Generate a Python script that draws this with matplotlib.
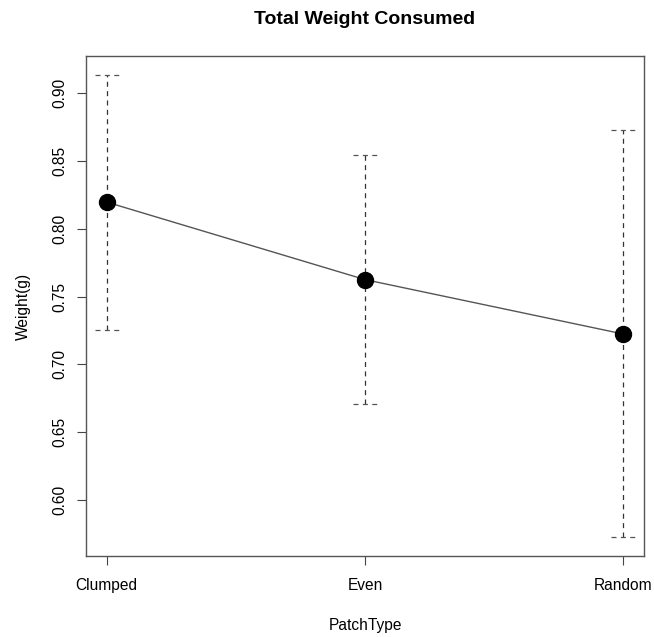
import matplotlib
matplotlib.use("Agg")
import matplotlib.pyplot as plt

categories = ["Clumped", "Even", "Random"]
means = [0.8196, 0.7625, 0.7224]
upper = [0.9136, 0.8545, 0.8727]
lower = [0.7254, 0.6710, 0.5725]
yticks = [0.60, 0.65, 0.70, 0.75, 0.80, 0.85, 0.90]

plt.rcParams['font.family'] = ['Liberation Sans', 'DejaVu Sans']

fig = plt.figure(figsize=(6.54, 6.37), dpi=100)
ax = fig.add_axes([86/654, 1-556/637, (644-86)/654, (556-56)/637])

x = list(range(1, len(categories)+1))
cap = 0.047
ax.vlines(x, lower, upper, colors="#333333", linestyles=(0, (4, 3.5)), linewidth=0.9)
ax.hlines(upper, [xi-cap for xi in x], [xi+cap for xi in x], colors="#555555", linestyles=(0, (4, 3.5)), linewidth=0.9)
ax.hlines(lower, [xi-cap for xi in x], [xi+cap for xi in x], colors="#555555", linestyles=(0, (4, 3.5)), linewidth=0.9)
ax.plot(x, means, color="#555555", linewidth=1.0, zorder=3)
ax.plot(x, means, "o", color="black", markersize=11.5, zorder=4)

lo, hi = min(lower), max(upper)
ext = 0.04*(hi-lo)
ax.set_ylim(lo-ext, hi+ext)
ax.set_xlim(1-0.04*2, 3+0.04*2)

ax.set_xticks(x)
ax.set_xticklabels(categories, fontsize=11.2)
ax.set_yticks(yticks)
ax.set_yticklabels([f"{v:.2f}" for v in yticks], rotation=90, va="center", fontsize=11.2)
ax.tick_params(axis="x", length=6.5, width=0.8, color="#444444", pad=9)
ax.tick_params(axis="y", length=6.5, width=0.8, color="#444444", pad=7)
for s in ax.spines.values():
    s.set_color("#555555")
    s.set_linewidth(1.0)

ax.set_xlabel("PatchType", fontsize=11.2, labelpad=18)
ax.set_ylabel("Weight(g)", fontsize=11.2, labelpad=15)
ax.set_title("Total Weight Consumed", fontsize=14, fontweight="bold", pad=23)

fig.savefig("out.png", dpi=100)
